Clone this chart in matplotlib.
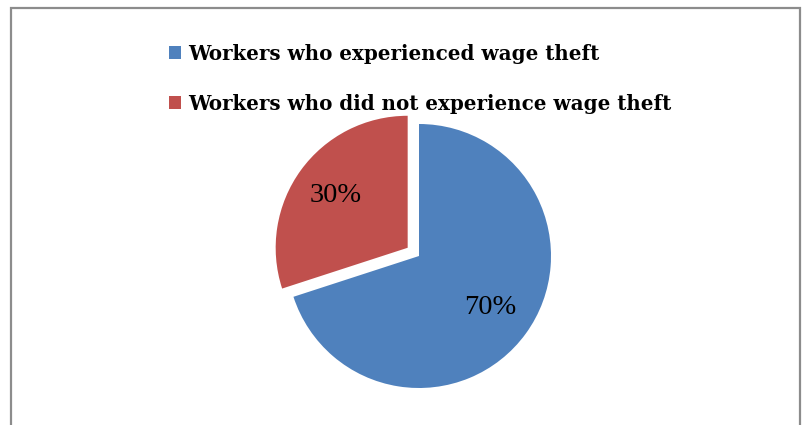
import matplotlib
matplotlib.use("Agg")
import matplotlib.pyplot as plt
from matplotlib.patches import Rectangle

labels = ["Workers who experienced wage theft",
          "Workers who did not experience wage theft"]
shares = [70, 30]
colors = ["#4F81BD", "#C0504D"]
explode = [0, 14]

W, H = 804, 425
fig = plt.figure(figsize=(W / 100, H / 100), dpi=100)
ax = fig.add_axes([0, 0, 1, 1])

wedges, texts, autotexts = ax.pie(
    shares, colors=colors, explode=explode, startangle=90, counterclock=False,
    center=(419, H - 256), radius=132, autopct="%d%%", pctdistance=0.67,
    frame=True, wedgeprops=dict(linewidth=0),
    textprops=dict(family="Liberation Serif", size=20.5, color="black"))

ax.set_xlim(0, W)
ax.set_ylim(0, H)
ax.axis("off")

# outer chart frame (bottom edge falls outside the picture)
ax.add_patch(Rectangle((11, -20), 789, H - 8 + 20, fill=False,
                       edgecolor="#8c8c8c", linewidth=1.6))

leg = ax.legend(wedges, labels, loc="upper left", bbox_to_anchor=(155 / W, 1 - 30 / H),
                frameon=False, prop=dict(family="DejaVu Serif", weight="bold", size=14.3),
                handlelength=0.62, handleheight=0.62, handletextpad=0.35, labelspacing=1.5,
                borderpad=0.2)

fig.savefig("out.png", dpi=100)
